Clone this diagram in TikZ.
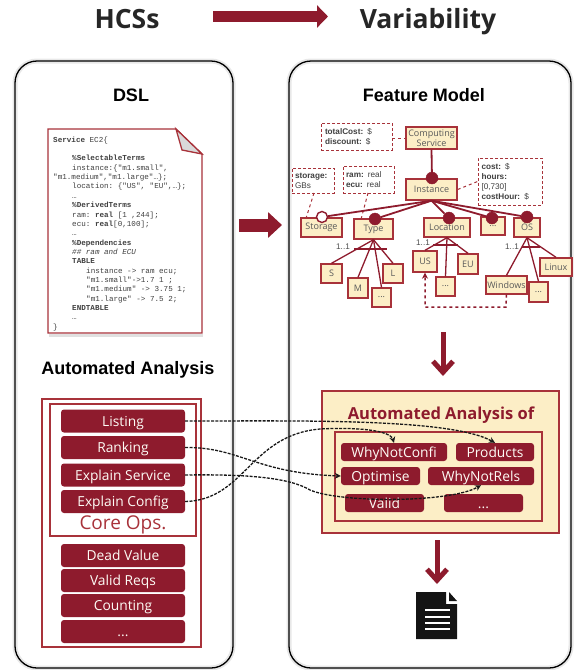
\documentclass[tikz,border=0pt]{standalone}
\usepackage{fontspec}
\setmainfont{Open Sans}
\setmonofont{Liberation Mono}
\newfontfamily\helv{Liberation Sans}
\usetikzlibrary{arrows.meta}
\definecolor{wine}{HTML}{8E1B2D}
\definecolor{brick}{HTML}{A8323A}
\definecolor{cream}{HTML}{FCEEC6}
\tikzset{
      panel/.style={draw=black, line width=1.3, rounded corners=22},
      halo/.style={draw=black!9, line width=5, rounded corners=22},
      opbox/.style={fill=wine, rounded corners=3, text=white!85!cream, inner sep=0,
            text height=10, text depth=0, font=\fontsize{13.8}{14}\selectfont},
      frame/.style={draw=brick, line width=1.4},
      feat/.style={draw=brick, fill=cream, line width=1.4, inner sep=0, align=center, text=black!65,
            font=\fontsize{9}{10.5}\selectfont},
      attr/.style={draw=brick, densely dashed, fill=white, line width=.9, inner sep=0, align=left,
            text=black!75, font=\helv\fontsize{8.2}{10}\selectfont},
      mand/.style={circle, draw=wine, fill=wine, minimum size=12, inner sep=0},
      opt/.style={circle, draw=wine, fill=white, line width=1.4, minimum size=11, inner sep=0},
      rel/.style={draw=wine, line width=1.3},
      note/.style={draw=brick, dashed, line width=1},
      trace/.style={draw=black!90, line width=1.3, dash pattern=on 3pt off 1.3pt, -{Stealth[length=6,width=6]}},
      bigarrow/.style={draw=wine, line width=5, -{Straight Barb[length=11,width=20,line width=5]}},
      title/.style={inner sep=0, anchor=base, font=\bfseries\fontsize{26.5}{27}\selectfont, text=black!85},
      head/.style={inner sep=0, anchor=base, font=\helv\bfseries\fontsize{18}{18}\selectfont},
}
\begin{document}
\begin{tikzpicture}[x=1pt,y=-1pt]
        \useasboundingbox (0,0) rectangle (585,670);

        % top line
        \node[title] (hcs) at (127,28.5) {HCSs};
        \node[title] (var) at (428,28.5) {Variability};
        \coordinate (a1) at (213,16.5);
        \coordinate (a2) at (328,16.5);
        \draw[wine, line width=11, -{Triangle[length=11,width=22]}] (a1) -- (a2);

        % panels
        \draw[halo] (15,61) rectangle (233,668);
        \draw[halo] (289,61) rectangle (571,668);
        \draw[panel] (15,61) rectangle (233,668);
        \draw[panel] (289,61) rectangle (571,668);

        \node[head] (dsl) at (131,101.5) {DSL};
        \node[head] (fm) at (424,101.5) {Feature Model};
        \node[head] (aa) at (128,374.5) {Automated Analysis};

        % DSL document
        \draw[draw=black!12, line width=3] (49,335) -- (203,335);
        \draw[brick, line width=1.3, fill=white] (48,129) -- (176,129) -- (202,154) -- (202,333) -- (48,333) -- cycle;
        \draw[brick, line width=1.3, fill=black!15] (176,129) -- (182,150) -- (202,154) -- cycle;
        \node[anchor=north west, inner sep=0, align=left, text=black!75, font=\ttfamily\fontsize{7.6}{9.35}\selectfont] (code) at (53,136.5) {%
\textbf{Service} EC2\{\\
\\
\hspace*{19pt}\textbf{\%SelectableTerms}\\
\hspace*{19pt}instance:\{"m1.small",\\
"m1.medium","m1.large"…\};\\
\hspace*{19pt}location: \{"US", "EU",…\};\\
\hspace*{19pt}…\\
\hspace*{19pt}\textbf{\%DerivedTerms}\\
\hspace*{19pt}ram: \textbf{real} [1 ,244];\\
\hspace*{19pt}ecu: \textbf{real}[0,100];\\
\hspace*{19pt}…\\
\hspace*{19pt}\textbf{\%Dependencies}\\
\hspace*{19pt}\textit{\#\# ram and ECU}\\
\hspace*{19pt}\textbf{TABLE}\\
\hspace*{33pt}instance -> ram ecu;\\
\hspace*{33pt}"m1.small"->1.7  1 ;\\
\hspace*{33pt}"m1.medium" -> 3.75 1;\\
\hspace*{33pt}"m1.large" -> 7.5 2;\\
\hspace*{19pt}\textbf{ENDTABLE}\\
\hspace*{19pt}…\\
\}};

        % middle and lower arrows
        \coordinate (m1) at (239,225);
        \coordinate (m2) at (282,225);
        \draw[wine, line width=13, -{Triangle[length=14,width=25]}] (m1) -- (m2);
        \coordinate (d1) at (443,332);
        \coordinate (d2) at (443,376);
        \draw[bigarrow] (d1) -- (d2);
        \coordinate (e1) at (437,540);
        \coordinate (e2) at (437,584);
        \draw[bigarrow] (e1) -- (e2);

        % left operations
        \draw[frame] (42,399) rectangle (201,647);
        \draw[frame] (50,404) rectangle (196,536);
        \node[opbox, minimum width=124, minimum height=23] (listing) at (123,421) {Listing};
        \node[opbox, minimum width=124, minimum height=23] (ranking) at (123,447.5) {Ranking};
        \node[opbox, minimum width=124, minimum height=23] (service) at (123,475) {Explain Service};
        \node[opbox, minimum width=124, minimum height=23] (config) at (123,501.5) {Explain Config};
        \node[inner sep=0, anchor=base, text=brick, font=\fontsize{19}{19}\selectfont] (core) at (123,529) {Core Ops.};
        \node[opbox, minimum width=124, minimum height=23] (dead) at (123,555.5) {Dead Value};
        \node[opbox, minimum width=124, minimum height=23] (reqs) at (123,580.5) {Valid Reqs};
        \node[opbox, minimum width=124, minimum height=23] (count) at (123,605.5) {Counting};
        \node[opbox, minimum width=124, minimum height=23] (dots) at (123,631.5) {...};

        % right analysis box
        \draw[frame, fill=cream] (322,391) rectangle (559,533);
        \node[inner sep=0, anchor=base, text=wine, font=\bfseries\fontsize{16.5}{17}\selectfont] (aof) at (441,419) {Automated Analysis of};
        \draw[frame] (335,432) rectangle (542,521);
        \node[opbox, minimum width=106, minimum height=18] (why) at (394,452) {WhyNotConfi};
        \node[opbox, minimum width=78, minimum height=18] (prod) at (495,452) {Products};
        \node[opbox, minimum width=79, minimum height=18] (optim) at (380.5,476) {Optimise};
        \node[opbox, minimum width=106, minimum height=18] (rels) at (481,476) {WhyNotRels};
        \node[opbox, minimum width=79, minimum height=18] (valid) at (384.5,503) {Valid};
        \node[opbox, minimum width=79, minimum height=18] (more) at (483.5,503) {...};

        % links between the two panels
        \draw[trace] (listing.east) .. controls (300,421) and (450,418) .. (prod.north);
        \draw[trace] (ranking.east) .. controls (240,447) and (255,473) .. (optim.west);
        \draw[trace] (service.east) .. controls (250,474) and (290,478) .. (310,490) .. controls (340,503) and (450,503) .. (rels.south);
        \draw[trace] (config.east) .. controls (245,500) and (250,435) .. (320,429) .. controls (355,427) and (390,430) .. (why.north);

        % feature model
        \node[feat, minimum width=51, minimum height=22] (cs) at (431.5,138) {Computing\\Service};
        \node[feat, minimum width=51, minimum height=21] (inst) at (431.5,189.5) {Instance};
        \node[feat, minimum width=41, minimum height=19] (storage) at (321.5,227.5) {Storage};
        \node[feat, minimum width=39, minimum height=20] (type) at (373.5,229) {Type};
        \node[feat, minimum width=46, minimum height=19] (loc) at (447,227.5) {Location};
        \node[feat, minimum width=24, minimum height=18] (fdots) at (493,226) {...};
        \node[feat, minimum width=26, minimum height=19] (os) at (527,227.5) {OS};

        \node[attr, minimum width=71, minimum height=27, text width=63] (a-cs) at (356.5,136.5) {\textbf{totalCost:} \$\\\textbf{discount:} \$};
        \node[attr, minimum width=64, minimum height=47, text width=57] (a-inst) at (510,181.5) {\textbf{cost:} \$\\\textbf{hours:}\\{[0,730]}\\\textbf{costHour:} \$};
        \node[attr, minimum width=42, minimum height=25, text width=36] (a-st) at (313,180.5) {\textbf{storage:}\\GBs};
        \node[attr, minimum width=51, minimum height=27, text width=45] (a-ty) at (368.5,179.5) {\textbf{ram:} real\\\textbf{ecu:} real};

        \draw[note] (a-cs.east |- cs.west) -- (cs.west);
        \draw[note] (inst.east) -- (a-inst.west);
        \coordinate (nst) at (314,193);
        \coordinate (nty) at (368,193);
        \draw[note] (nst) -- ([xshift=6]storage.north west);
        \draw[note] (nty) -- ([xshift=8]type.north west);

        \node[mand] (cinst) at (432,178) {};
        \node[opt] (cst) at (322,217) {};
        \node[mand] (cty) at (375,219) {};
        \node[mand] (clo) at (449,218) {};
        \node[mand] (cdo) at (492,218) {};
        \node[mand] (cos) at (527,217) {};

        \draw[rel, line width=1.8] (cs.south) -- (cinst);
        \draw[rel, line width=1.8] (inst.south) -- (cst);
        \draw[rel, line width=1.8] (inst.south) -- (cty);
        \draw[rel, line width=1.8] (inst.south) -- (clo);
        \draw[rel, line width=1.8] (inst.south) -- (cdo);
        \draw[rel, line width=1.8] (inst.south) -- (cos);

        % children of Type
        \node[feat, minimum width=21, minimum height=19] (s) at (331.5,273.5) {S};
        \node[feat, minimum width=20, minimum height=20] (m) at (358,288) {M};
        \node[feat, minimum width=19, minimum height=19] (tdots) at (381.5,297.5) {...};
        \node[feat, minimum width=20, minimum height=19] (l) at (393,273.5) {L};
        \draw[rel] (type.south) -- (s.north);
        \draw[rel] (type.south) -- (m.north);
        \draw[rel] (type.south) -- (tdots.north);
        \draw[rel] (type.south) -- (l.north);
        \coordinate (t1) at (354,249);
        \coordinate (t2) at (387,249);
        \draw[rel] (t1) -- (t2);
        \node[inner sep=0, text=black!70, font=\helv\fontsize{8.2}{9}\selectfont] (tcard) at (343,247) {1..1};

        % children of Location
        \node[feat, minimum width=24, minimum height=21] (us) at (425,261.5) {US};
        \node[feat, minimum width=19, minimum height=19] (ldots) at (445.5,286.5) {...};
        \node[feat, minimum width=20, minimum height=20] (eu) at (468,264) {EU};
        \draw[rel] (loc.south) -- (us.north);
        \draw[rel] (loc.south) -- (ldots.north);
        \draw[rel] (loc.south) -- (eu.north);
        \coordinate (l1) at (433,245);
        \coordinate (l2) at (458,245);
        \draw[rel] (l1) -- (l2);
        \node[inner sep=0, text=black!70, font=\helv\fontsize{8.2}{9}\selectfont] (lcard) at (423,243) {1..1};

        % children of OS
        \node[feat, minimum width=41, minimum height=18] (win) at (506.5,285) {Windows};
        \node[feat, minimum width=19, minimum height=20] (odots) at (538.5,292) {...};
        \node[feat, minimum width=32, minimum height=18] (linux) at (556,267) {Linux};
        \draw[rel] (os.south) -- (win.north);
        \draw[rel] (os.south) -- (odots.north);
        \draw[rel] (os.south) -- (linux.north);
        \coordinate (o1) at (522,247);
        \coordinate (o2) at (540,247);
        \draw[rel] (o1) -- (o2);
        \node[inner sep=0, text=black!70, font=\helv\fontsize{8.2}{9}\selectfont] (ocard) at (512,247) {1..1};

        % excludes link
        \coordinate (x1) at (506,307);
        \coordinate (x2) at (425,307);
        \draw[rel, dashed, line width=1.5, -{Stealth[length=6,width=6]}] (win.south) -- (x1) -- (x2) -- (us.south);

        % result icon
        \fill[black!92] (416,592) -- (446,592) -- (446,604) -- (457,604) -- (457,639) -- (416,639) -- cycle;
        \fill[black!92] (449,592) -- (457,601) -- (449,601) -- cycle;
        \foreach \yy in {610,617,623,629} {
            \draw[white, line width=1.5] (425,\yy) -- (450,\yy);
        }
    \end{tikzpicture}
\end{document}
